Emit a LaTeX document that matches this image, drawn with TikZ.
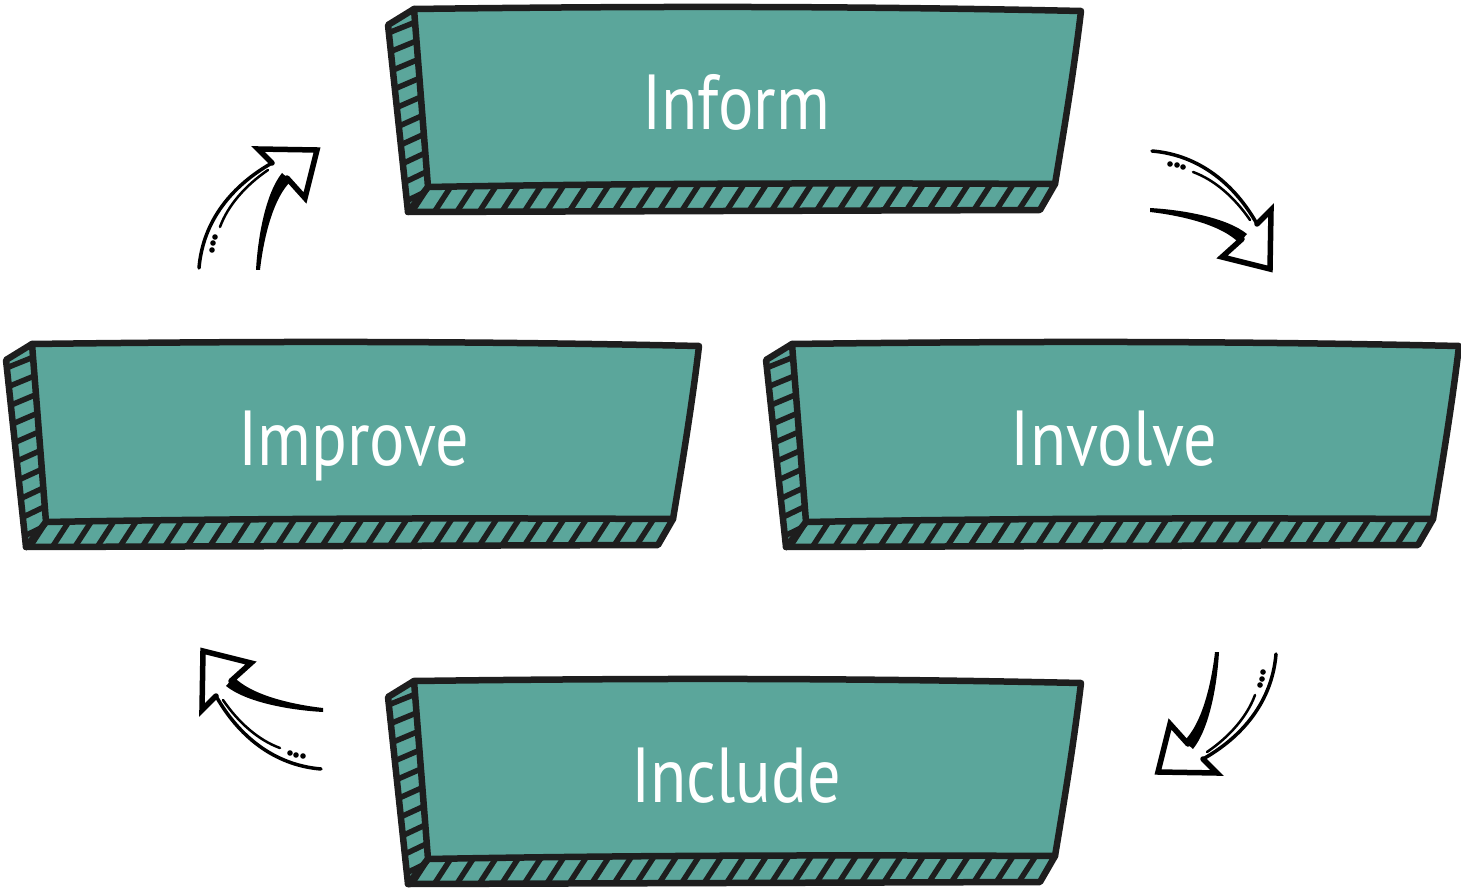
\documentclass[tikz,border=0pt]{standalone}
\usepackage{fontspec}
\setmainfont{PT Sans}
\usetikzlibrary{calc}
\definecolor{boxteal}{RGB}{91,166,155}
\definecolor{ink}{RGB}{30,30,30}
\tikzset{
  outline/.style={draw=ink, line width=6.5pt, line join=round, line cap=round},
  hatchline/.style={draw=ink, line width=5.5pt},
  boxtext/.style={text=white, font=\fontsize{78}{80}\selectfont, anchor=base, inner sep=0pt},
  headline/.style={draw=black, line width=5.5pt, line join=miter, line cap=round},
  thinline/.style={draw=black, line cap=round}
}
\newcommand\hatchbox[4]{%
  \begin{scope}[shift={(#1,#2)}]
    \coordinate (#3-A) at (388,25);
    \coordinate (#3-B) at (414,9);
    \coordinate (#3-C) at (1081,11);
    \coordinate (#3-D) at (1055,184);
    \coordinate (#3-E) at (1040,210);
    \coordinate (#3-F) at (408,212);
    \coordinate (#3-G) at (428,187);
    \fill[boxteal] (#3-A) -- (#3-B) .. controls (650,6) and (850,6) .. (#3-C) .. controls (1074,70) and (1064,130) .. (#3-D) -- (#3-E) -- (#3-F) -- cycle;
    \begin{scope}
      \clip (#3-A) -- (#3-B) -- (#3-G) -- (#3-F) -- cycle;
      \coordinate (#3-o1) at (376,34); \coordinate (#3-o2) at (396,222);
      \coordinate (#3-i1) at (426,14); \coordinate (#3-i2) at (440,200);
      \foreach \t in {0.02,0.12,...,1.0}
        \draw[hatchline] ($(#3-o1)!\t!(#3-o2)$) -- ($(#3-i1)!\t!(#3-i2)$);
    \end{scope}
    \begin{scope}
      \clip (#3-G) -- (#3-D) -- (#3-E) -- (#3-F) -- cycle;
      \coordinate (#3-t1) at (434,178); \coordinate (#3-t2) at (1064,175);
      \coordinate (#3-b1) at (408,218); \coordinate (#3-b2) at (1038,215);
      \foreach \k in {0,...,28}
        \draw[hatchline] ($(#3-t1)!\k/28!(#3-t2)$) -- ($(#3-b1)!\k/28!(#3-b2)$);
    \end{scope}
    \draw[outline] (#3-A) -- (#3-B) .. controls (650,6) and (850,6) .. (#3-C) .. controls (1074,70) and (1064,130) .. (#3-D) -- (#3-E) -- (#3-F) -- cycle;
    \draw[outline] (#3-B) -- (#3-G) .. controls (650,183) and (850,183) .. (#3-D);
    \draw[outline] (#3-G) -- (#3-F);
    \node[boxtext] (#3) at (736,130) {\scalebox{0.85}[1]{#4}};
  \end{scope}}
\newcommand\swoosh[3]{%
  \begin{scope}[shift={(#1,#2)}, rotate=#3]
    \fill[black] (-2,60) .. controls (0,25) and (8,-17) .. (24,-37) -- (33,-29) .. controls (16,-13) and (6,25) .. (2,60) -- cycle;
    \draw[headline] (29,-32) -- (47,-12) -- (59,-60) -- (0,-61) -- (14,-47);
    \draw[thinline, line width=3.5pt] (14,-47) .. controls (-25,-25) and (-55,10) .. (-59,58);
    \draw[thinline, line width=2.5pt] (10,-40) .. controls (-12,-25) and (-30,-5) .. (-38,17);
    \fill[black] (-43,27) circle (2.8) (-45,33) circle (2.8) (-46,40) circle (2.8);
  \end{scope}}
\begin{document}
\begin{tikzpicture}[x=1pt,y=-1pt]
  \useasboundingbox (0,0) rectangle (1461,890);
  \hatchbox{0}{0}{inform}{Inform}
  \hatchbox{-382}{335}{improve}{Improve}
  \hatchbox{378}{335}{involve}{Involve}
  \hatchbox{0}{672}{include}{Include}
  \swoosh{258}{210}{0}
  \swoosh{1210}{210}{-90}
  \swoosh{1217}{712}{180}
  \swoosh{263}{710}{90}
\end{tikzpicture}
\end{document}
